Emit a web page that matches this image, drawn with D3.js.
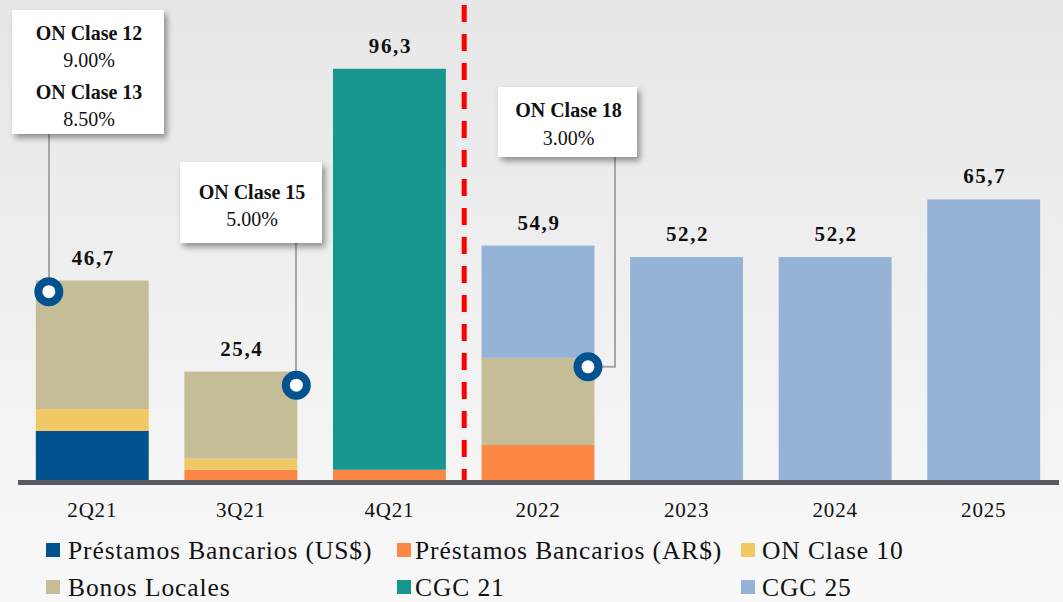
<!DOCTYPE html>
<html>
<head>
<meta charset="utf-8">
<script src="https://cdn.jsdelivr.net/npm/d3@7"></script>
<style>
  body { margin: 0; padding: 0; overflow: hidden; }
  svg { display: block; }
</style>
</head>
<body>
<div id="chart"></div>
<script>
// debt maturity profile, millions US$
var categories = ["2Q21", "3Q21", "4Q21", "2022", "2023", "2024", "2025"];
var prestamosUSD = [11.5, 0, 0, 0, 0, 0, 0];
var prestamosARS = [0, 2.4, 2.4, 8.2, 0, 0, 0];
var onClase10 = [5.1, 2.6, 0, 0, 0, 0, 0];
var bonosLocales = [30.1, 20.4, 0, 20.4, 0, 0, 0];
var cgc21 = [0, 0, 93.9, 0, 0, 0, 0];
var cgc25 = [0, 0, 0, 26.3, 52.2, 52.2, 65.7];

var seriesNames = ["Préstamos Bancarios (US$)", "Préstamos Bancarios (AR$)", "ON Clase 10",
                   "Bonos Locales", "CGC 21", "CGC 25"];
var seriesColors = ["#02528f", "#fd8744", "#f2c862", "#c4bd97", "#16968e", "#95b3d7"];
var seriesValues = [prestamosUSD, prestamosARS, onClase10, bonosLocales, cgc21, cgc25];

// callouts: category, value where the marker sits, text lines
var calloutCats = ["2Q21", "3Q21", "2022"];
var calloutAt = [44.1, 22.2, 26.5];
var calloutLines = [
  [["ON Clase 12", true], ["9.00%", false], ["ON Clase 13", true], ["8.50%", false]],
  [["ON Clase 15", true], ["5.00%", false]],
  [["ON Clase 18", true], ["3.00%", false]]
];

var W = 1063, H = 602;
var svg = d3.select("#chart").append("svg").attr("width", W).attr("height", H);

var defs = svg.append("defs");
var grad = defs.append("linearGradient").attr("id", "bg").attr("x1", 0).attr("y1", 0).attr("x2", 0).attr("y2", 1);
grad.append("stop").attr("offset", "0%").attr("stop-color", "#e7e7e7");
grad.append("stop").attr("offset", "80%").attr("stop-color", "#f5f5f5");
grad.append("stop").attr("offset", "100%").attr("stop-color", "#f8f8f8");
var shadow = defs.append("filter").attr("id", "shadow").attr("x", "-20%").attr("y", "-20%").attr("width", "150%").attr("height", "160%");
shadow.append("feDropShadow").attr("dx", 3).attr("dy", 4).attr("stdDeviation", 3)
  .attr("flood-color", "#000").attr("flood-opacity", 0.4);

svg.append("rect").attr("width", W).attr("height", H).attr("fill", "url(#bg)");

var x = d3.scaleBand().domain(categories).range([18, 1058]).paddingInner(0.24).paddingOuter(0.12);
var y = d3.scaleLinear().domain([0, 112.4]).range([480, 0]);

var table = categories.map(function (c, i) {
  var row = { cat: c };
  seriesNames.forEach(function (s, k) { row[s] = seriesValues[k][i]; });
  return row;
});
var stack = d3.stack().keys(seriesNames)(table);

var serif = "'Liberation Serif', 'Times New Roman', serif";

var plot = svg.append("g");
stack.forEach(function (layer, k) {
  plot.selectAll(null).data(layer).enter().append("rect")
    .attr("x", function (d) { return x(d.data.cat); })
    .attr("width", x.bandwidth())
    .attr("y", function (d) { return y(d[1]); })
    .attr("height", function (d) { return y(d[0]) - y(d[1]); })
    .attr("fill", seriesColors[k]);
});

// totals
var totals = categories.map(function (c, i) {
  return d3.sum(seriesValues, function (s) { return s[i]; });
});
plot.selectAll(null).data(categories).enter().append("text")
  .attr("x", function (d) { return x(d) + x.bandwidth() / 2 + 1; })
  .attr("y", function (d, i) { return y(totals[i]) - 16; })
  .attr("text-anchor", "middle")
  .attr("font-family", serif).attr("font-weight", "bold").attr("font-size", 21)
  .attr("letter-spacing", 1.6)
  .attr("fill", "#111")
  .text(function (d, i) { return totals[i].toFixed(1).replace(".", ","); });

// axis
var axis = svg.append("g").attr("transform", "translate(0,480)")
  .call(d3.axisBottom(x).tickSize(0).tickPadding(0));
axis.select(".domain").remove();
svg.append("rect").attr("x", 18).attr("y", 480).attr("width", 1041).attr("height", 5).attr("fill", "#595a5f");
axis.selectAll("text").attr("dy", null).attr("y", 36.5)
  .attr("font-family", serif).attr("font-size", 21).attr("letter-spacing", 0.8).attr("fill", "#111");

// dashed separator between 4Q21 and 2022
var sepX = (x("4Q21") + x.bandwidth() + x("2022")) / 2 + 0.5;
svg.append("line").attr("x1", sepX).attr("x2", sepX).attr("y1", 5).attr("y2", 480)
  .attr("stroke", "#ff0000").attr("stroke-width", 5).attr("stroke-dasharray", "17,12");

// callout boxes (layout only)
var boxes = [
  { x: 12, y: 10, w: 152, h: 124, lineX: 49, dx: 13, ys: [40, 67, 99, 126] },
  { x: 180, y: 162, w: 142, h: 81, lineX: 296, dx: -1, ys: [198.5, 225.5] },
  { x: 498, y: 87, w: 139, h: 70, lineX: 615, dx: -6.5, ys: [116.5, 144.5] }
];
calloutCats.forEach(function (cat, i) {
  var b = boxes[i];
  var cx = b.dx > 0 ? x(cat) + b.dx : x(cat) + x.bandwidth() + b.dx;
  var cy = y(calloutAt[i]);
  var g = svg.append("g");
  var path = d3.path();
  path.moveTo(b.lineX, b.y + b.h);
  path.lineTo(b.lineX, cy);
  path.lineTo(cx, cy);
  g.append("path").attr("d", path.toString()).attr("fill", "none")
    .attr("stroke", "#a6a6a6").attr("stroke-width", 2);
  g.append("rect").attr("x", b.x).attr("y", b.y).attr("width", b.w).attr("height", b.h)
    .attr("fill", "#fff").attr("filter", "url(#shadow)");
  calloutLines[i].forEach(function (l, j) {
    g.append("text").attr("x", b.x + b.w / 2 + 1).attr("y", b.ys[j])
      .attr("text-anchor", "middle")
      .attr("font-family", serif).attr("font-size", 20)
      .attr("font-weight", l[1] ? "bold" : "normal")
      .attr("fill", "#111").text(l[0]);
  });
  g.append("circle").attr("cx", cx).attr("cy", cy).attr("r", 10.5)
    .attr("fill", "#fff").attr("stroke", "#02528f").attr("stroke-width", 8);
});

// legend
var swatchX = [46, 397, 741];
var textX = [68, 415, 762];
var rowY = [559, 596];
var legend = svg.append("g");
seriesNames.forEach(function (s, k) {
  var col = k % 3, row = Math.floor(k / 3);
  legend.append("rect").attr("x", swatchX[col]).attr("y", rowY[row] - 16).attr("width", 14).attr("height", 14)
    .attr("fill", seriesColors[k]);
  legend.append("text").attr("x", textX[col]).attr("y", rowY[row])
    .attr("font-family", serif).attr("font-size", 25.5).attr("letter-spacing", 0.9)
    .attr("fill", "#111").text(s);
});
</script>
</body>
</html>
